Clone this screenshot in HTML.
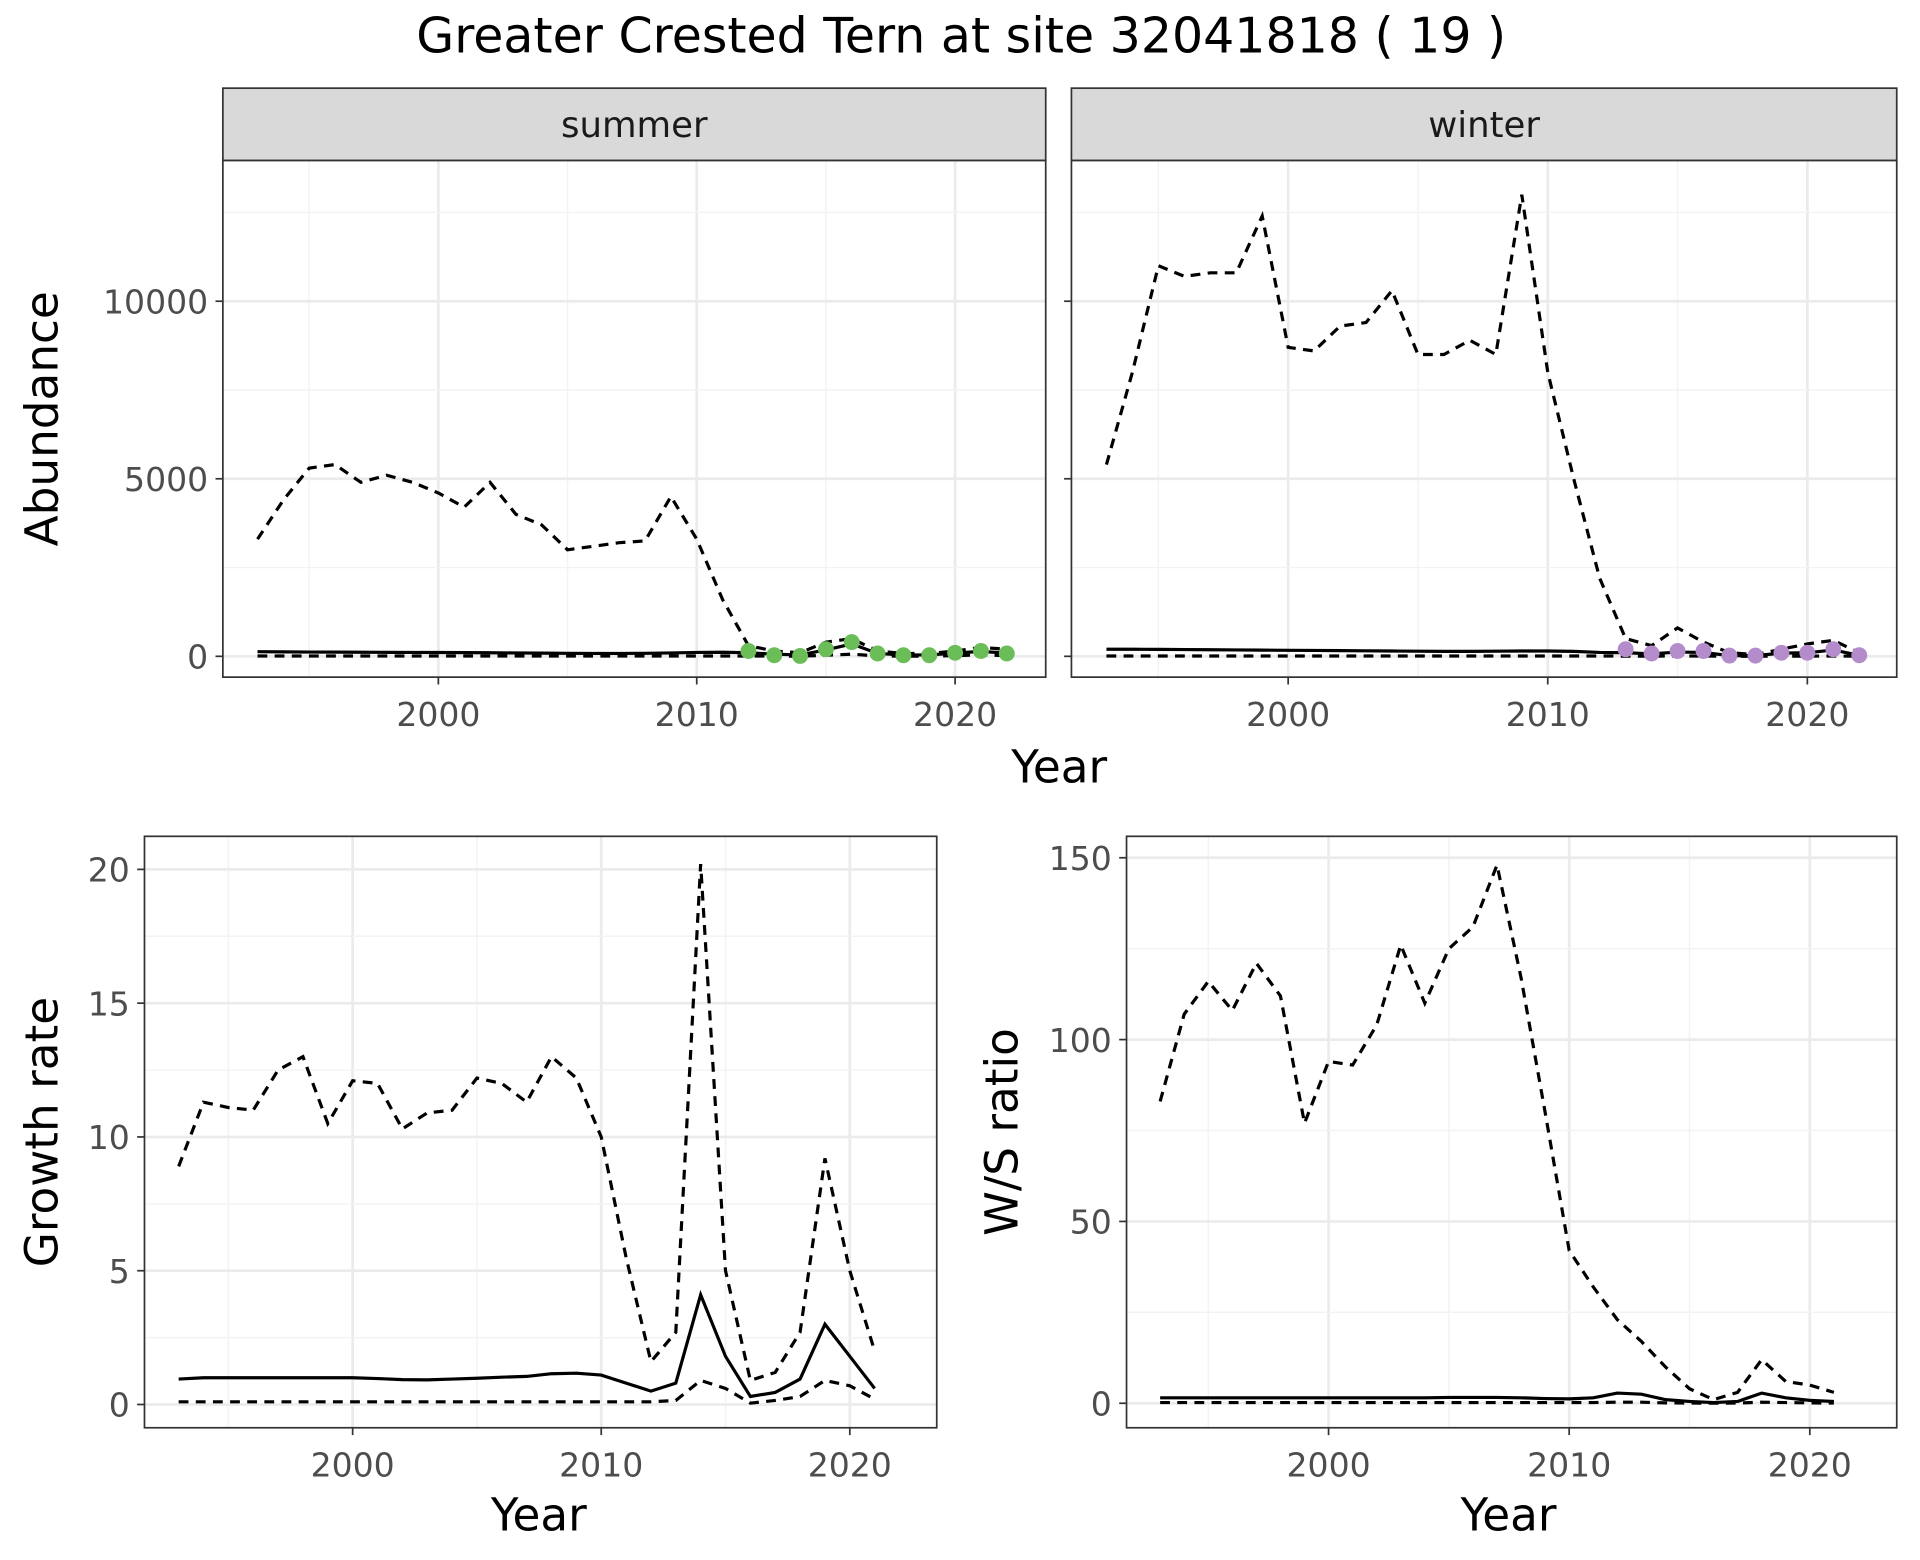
<!DOCTYPE html>
<html><head><meta charset="utf-8"><style>
html,body{margin:0;padding:0;background:#fff}
svg{display:block;font-family:"DejaVu Sans","Liberation Sans",sans-serif}
</style></head><body>
<svg id="c" width="1920" height="1560" viewBox="0 0 1568 1274"></svg>
<script>
const years = Array.from({length:30},(_, i)=>1993+i);
const sumUpper=[3300,4400,5300,5400,4900,5100,4900,4600,4200,4900,4000,3700,3000,3100,3200,3250,4500,3300,1600,300,150,100,400,500,150,80,80,150,250,200];
const sumMid=[130,125,120,118,115,112,110,108,105,100,95,90,85,82,82,85,95,110,115,100,60,40,180,350,80,40,40,90,140,90];
const sumLower=[10,10,10,10,10,10,10,10,10,10,10,10,10,10,10,10,10,10,10,10,5,5,30,60,10,5,5,20,40,20];
const sumPtYears=[2012,2013,2014,2015,2016,2017,2018,2019,2020,2021,2022];
const sumPts=[150,30,10,200,400,80,30,30,100,150,80];
const winUpper=[5400,8000,11000,10700,10800,10800,12400,8700,8600,9300,9400,10300,8500,8500,8900,8500,13000,8000,5000,2200,500,300,800,400,100,50,200,350,450,100];
const winMid=[200,200,195,190,185,180,175,170,165,160,155,150,145,140,140,145,150,150,140,110,100,70,120,110,20,20,90,100,180,30];
const winLower=[10,10,10,10,10,10,10,10,10,10,10,10,10,10,10,10,10,10,10,10,5,5,10,10,2,2,5,5,10,2];
const winPtYears=[2013,2014,2015,2016,2017,2018,2019,2020,2021,2022];
const winPts=[200,80,150,150,20,20,100,100,200,30];
const gYears = Array.from({length:29},(_, i)=>1993+i);
const grUpper=[8.9,11.3,11.1,11.0,12.5,13.0,10.5,12.1,12.0,10.3,10.9,11.0,12.2,12.0,11.3,13.0,12.2,10.0,5.5,1.6,2.7,20.2,5.0,0.9,1.2,2.7,9.2,5.0,2.0];
const grMid=[0.95,1.0,1.0,1.0,1.0,1.0,1.0,1.0,0.97,0.93,0.92,0.95,0.98,1.02,1.05,1.15,1.17,1.1,0.8,0.5,0.8,4.1,1.8,0.3,0.45,0.95,3.0,1.8,0.6];
const grLower=[0.1,0.1,0.1,0.1,0.1,0.1,0.1,0.1,0.1,0.1,0.1,0.1,0.1,0.1,0.1,0.1,0.1,0.1,0.1,0.1,0.15,0.9,0.6,0.05,0.15,0.3,0.9,0.7,0.2];
const wsUpper=[83,107,116,108,121,112,77,94,93,104,126,110,125,131,148,117,80,42,32,23,17,10,4,1,3,12,6,5,3];
const wsMid=[1.5,1.5,1.5,1.5,1.5,1.5,1.5,1.5,1.5,1.5,1.5,1.5,1.6,1.6,1.6,1.5,1.3,1.2,1.5,2.8,2.5,1,0.5,0.2,0.5,2.8,1.5,0.8,0.5];
const wsLower=[0.2,0.2,0.2,0.2,0.2,0.2,0.2,0.2,0.2,0.2,0.2,0.2,0.2,0.2,0.2,0.2,0.2,0.2,0.2,0.3,0.3,0.1,0.05,0.02,0.05,0.3,0.2,0.1,0.05];
const xTicks=[2000,2010,2020];
const abTicks=[0,5000,10000];
const grTicks=[0,5,10,15,20];
const wsTicks=[0,50,100,150];

const NS="http://www.w3.org/2000/svg";
const svg=document.getElementById('c');
function el(tag,attrs,parent,txt){const e=document.createElementNS(NS,tag);for(const k in attrs)e.setAttribute(k,attrs[k]);if(txt!==undefined)e.textContent=txt;(parent||svg).appendChild(e);return e;}

const t=el('text',{x:785,y:43,'text-anchor':'middle','font-size':40,fill:'#000'},svg,'Greater Crested Tern at site 32041818 ( 19 )');



function panel(o){
  const g=el('g',{});
  
  
  const X=v=>o.x0+(v-o.xa)*o.xs, Y=v=>o.y0-(v-o.ya)*o.ys;
  for(let v=1990;v<=2030;v+=5){const px=X(v);if(px>o.l&&px<o.r)el('line',{x1:px,x2:px,y1:o.t,y2:o.b,stroke:(v%10?'#f3f3f3':'#ebebeb'),'stroke-width':(v%10?1.2:2.2)},g);}
  const st=o.ticks[1]-o.ticks[0];
  for(let i=-1;i<o.ticks.length+1;i++){const v=o.ticks[0]+i*st+st/2;const py=Y(v);if(py>o.t&&py<o.b)el('line',{x1:o.l,x2:o.r,y1:py,y2:py,stroke:'#f3f3f3','stroke-width':1.2},g);}
  o.ticks.forEach(v=>{const py=Y(v);el('line',{x1:o.l,x2:o.r,y1:py,y2:py,stroke:'#ebebeb','stroke-width':2.2},g);});
  const line=(xs,ys,dash)=>{const p=el('polyline',{points:xs.map((x,i)=>X(x)+','+Y(ys[i])).join(' '),fill:'none',stroke:'#000','stroke-width':2.6,'stroke-dasharray':dash?'8,6':'none'},g);};
  line(o.xv,o.up,true);line(o.xv,o.mid,false);line(o.xv,o.lo,true);
  if(o.pts){o.ptx.forEach((x,i)=>{const c=el('circle',{cx:X(x),cy:Y(o.pts[i]),r:6.5,fill:o.col},g);});}
  el('rect',{x:o.l,y:o.t,width:o.r-o.l,height:o.b-o.t,fill:'none',stroke:'#333','stroke-width':1.4},g);
  if(o.strip){const s=el('rect',{x:o.l,y:o.t-59,width:o.r-o.l,height:59,fill:'#d9d9d9',stroke:'#333','stroke-width':1.4},g);
    el('text',{x:(o.l+o.r)/2,y:o.t-19,'text-anchor':'middle','font-size':29,fill:'#1a1a1a'},g,o.strip);}
  xTicks.forEach(v=>{const px=X(v);el('line',{x1:px,x2:px,y1:o.b,y2:o.b+6,stroke:'#333','stroke-width':1.4},g);el('text',{x:px,y:o.b+40,'text-anchor':'middle','font-size':27,fill:'#4d4d4d'},g,v);});
  o.ticks.forEach(v=>{const py=Y(v);el('line',{x1:o.l-6,x2:o.l,y1:py,y2:py,stroke:'#333','stroke-width':1.4},g);if(o.ylab!==false)el('text',{x:o.l-12,y:py+10,'text-anchor':'end','font-size':27,fill:'#4d4d4d'},g,v);});
  if(o.xt){const a=el('text',{x:o.xt,y:o.b+84,'text-anchor':'middle','font-size':37},g,'Year');}
  if(o.yt){const a=el('text',{x:0,y:0,transform:`translate(${o.ytx},${(o.t+o.b)/2}) rotate(-90)`,'text-anchor':'middle','font-size':37},g,o.yt);}
}
panel({name:'summer-panel',l:182,r:854,t:131,b:553,x0:358,xa:2000,xs:21.1,y0:536,ya:0,ys:0.029,ticks:abTicks,xv:years,up:sumUpper,mid:sumMid,lo:sumLower,pts:sumPts,ptx:sumPtYears,col:'#6abd57',strip:'summer',yt:'Abundance',ytx:47});
panel({name:'winter-panel',l:875,r:1549,t:131,b:553,x0:1052,xa:2000,xs:21.2,y0:536,ya:0,ys:0.029,ticks:abTicks,xv:years,up:winUpper,mid:winMid,lo:winLower,pts:winPts,ptx:winPtYears,col:'#b48ccb',strip:'winter',ylab:false});
const yt=el('text',{x:865,y:639,'text-anchor':'middle','font-size':37},svg,'Year');


panel({name:'growth-panel',l:118,r:765,t:683,b:1166,x0:288,xa:2000,xs:20.3,y0:1147,ya:0,ys:21.85,ticks:grTicks,xv:gYears,up:grUpper,mid:grMid,lo:grLower,xt:440,yt:'Growth rate',ytx:47});
panel({name:'ws-ratio-panel',l:920,r:1549,t:683,b:1166,x0:1085,xa:2000,xs:19.65,y0:1146,ya:0,ys:2.97,ticks:wsTicks,xv:gYears,up:wsUpper,mid:wsMid,lo:wsLower,xt:1232,yt:'W/S ratio',ytx:831});
</script>
</body></html>
